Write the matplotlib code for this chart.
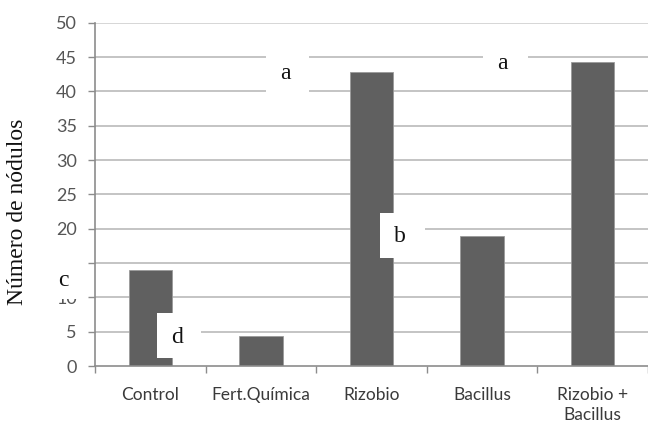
import matplotlib
matplotlib.use("Agg")
import matplotlib.pyplot as plt
from matplotlib.patches import Rectangle

categories = ["Control", "Fert.Química", "Rizobio", "Bacillus", "Rizobio +\nBacillus"]
nodulos = [14.0, 4.3, 42.8, 19.0, 44.3]
y_ticks = [0, 5, 10, 15, 20, 25, 30, 35, 40, 45, 50]
letters = ["a", "a", "b", "c", "d"]
letter_x = [1.22, 3.18, 2.26, -0.79, 0.24]
letter_y = [42.6, 44.1, 18.8, 12.4, 4.2]
box_x0 = [1.046, 3.008, 2.077, -0.95, 0.06]
box_x1 = [1.435, 3.415, 2.484, -0.56, 0.458]
box_y0 = [39.8, 41.2, 15.8, 9.8, 1.2]
box_y1 = [45.3, 47.0, 22.3, 15.9, 7.7]

fig = plt.figure(figsize=(6.48, 4.23), dpi=100)
ax = fig.add_axes([95/648, 1-366/423, 553/648, (366-22.7)/423])

x = list(range(len(categories)))
ax.bar(x, nodulos, width=0.394, color="#606060", edgecolor="#9a9a9a", linewidth=0.6, zorder=2)

ax.set_xlim(-0.5, len(categories) - 0.5)
ax.set_ylim(0, 50)
ax.set_yticks(y_ticks)
ax.set_yticklabels([str(v) for v in y_ticks])
for v in y_ticks[1:]:
    ax.axhline(v, color="#c4c4c4" if v < 50 else "#d6d6d6", linewidth=1.4, zorder=1)

ax.set_xticks(x)
ax.set_xticklabels(categories, linespacing=1.3)
ax.set_xticks([i - 0.5 for i in range(len(categories) + 1)], minor=True)
ax.tick_params(axis="x", which="major", length=0, pad=15, labelsize=12.5, labelcolor="#3a3a3a")
ax.tick_params(axis="x", which="minor", length=5, direction="out", color="#8c8c8c", width=1)
ax.tick_params(axis="y", length=5, direction="out", color="#8c8c8c", width=1, pad=8,
               labelsize=13, labelcolor="#555555")
for lbl in ax.get_xticklabels() + ax.get_yticklabels():
    lbl.set_family(["Lato", "DejaVu Sans"])

for s in ["top", "right"]:
    ax.spines[s].set_visible(False)
ax.spines["left"].set_color("#8c8c8c")
ax.spines["bottom"].set_color("#8c8c8c")
ax.spines["left"].set_linewidth(1.2)
ax.spines["bottom"].set_linewidth(1.2)

ax.set_ylabel("Número de nódulos", family="Liberation Serif", fontsize=17, color="#111111")
ax.yaxis.set_label_coords(-0.122, 0.45)

for t, lx, ly, x0, x1, y0, y1 in zip(letters, letter_x, letter_y, box_x0, box_x1, box_y0, box_y1):
    ax.add_patch(Rectangle((x0, y0), x1 - x0, y1 - y0, facecolor="white", edgecolor="none",
                           zorder=5, clip_on=False))
    ax.text(lx, ly, t, family="Liberation Serif", fontsize=17, ha="center", va="center",
            color="#111111", zorder=6, clip_on=False)

fig.savefig("out.png", dpi=100)
